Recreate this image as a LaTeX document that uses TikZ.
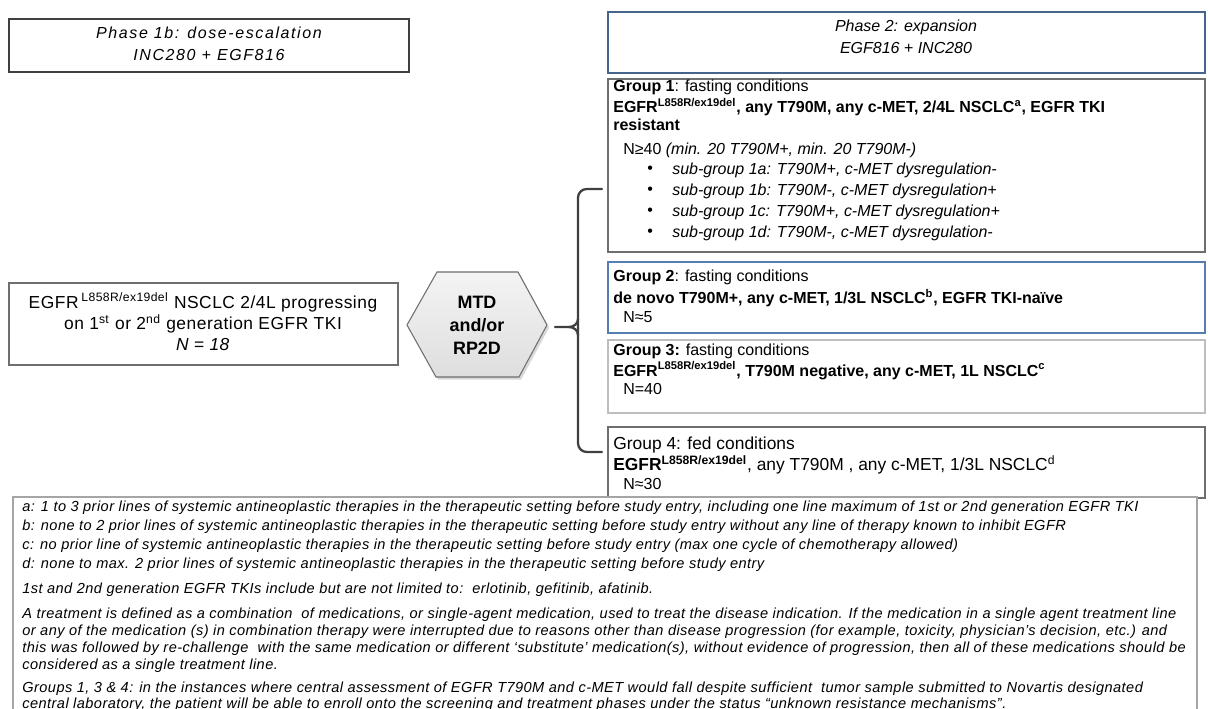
\documentclass[tikz,border=0pt]{standalone}
\usepackage{fontspec}
\setmainfont{Liberation Sans}
\newfontfamily\spacedfont[LetterSpace=10]{Liberation Sans}
\newfontfamily\notefamily[LetterSpace=3]{Liberation Sans}
\newfontfamily\entryfamily[LetterSpace=3]{Liberation Sans}
\usetikzlibrary{shadows}
\definecolor{darkline}{RGB}{64,64,64}
\definecolor{greyline}{RGB}{110,110,110}
\definecolor{paleline}{RGB}{190,190,190}
\definecolor{noteline}{RGB}{165,165,165}
\definecolor{navyline}{RGB}{70,100,140}
\definecolor{blueline}{RGB}{85,125,175}
\definecolor{hexgrey}{RGB}{222,222,222}
\newcommand{\egfr}{EGFR\textsuperscript{L858R/ex19del}}
\newcommand{\bodyfont}{\fontsize{9.1}{12.5}\selectfont}
\newcommand{\bigfont}{\fontsize{9.9}{12.2}\selectfont}
\newcommand{\notefont}{\notefamily\fontsize{8.3}{9}\selectfont\itshape}

\begin{document}
\begin{tikzpicture}[x=0.02cm,y=-0.02cm,
  panel/.style={draw=#1,line width=0.7pt},
  hdr/.style={font=\bodyfont\itshape,align=center,inner sep=0pt},
  txt/.style={anchor=west,inner sep=0pt,font=\bodyfont},
  subtxt/.style={anchor=west,inner sep=0pt,font=\bodyfont\itshape},
  note/.style={anchor=west,inner sep=0pt,font=\notefont},
  brace/.style={draw=darkline,line width=1.3pt,line cap=round},
  hexshape/.style={draw=greyline,line width=0.6pt,top color=hexgrey!35,
                   bottom color=hexgrey,
                   drop shadow={shadow xshift=1.2pt,shadow yshift=-1.5pt,opacity=0.3}}]
\useasboundingbox (0,0) rectangle (1208,709);

% phase 1b
\draw[panel=darkline] (9,19) rectangle (409,72);
\node[hdr,font=\spacedfont\bodyfont\itshape] (ph1) at (209,44) {Phase 1b: dose-escalation\\INC280 + EGF816};

% entry box and hexagon
\draw[panel=greyline] (9,283) rectangle (398,365);
\node[align=center,inner sep=0pt,font=\entryfamily\bigfont] (entry) at (203,322)
  {EGFR\,\textsuperscript{L858R/ex19del} NSCLC 2/4L progressing\\
   on 1\textsuperscript{st} or 2\textsuperscript{nd} generation EGFR TKI\\
   \textit{N = 18}};
\draw[hexshape] (407,325) -- (437,272) -- (518,272) -- (547,325)
  -- (519,377) -- (436,377) -- cycle;
\node[align=center,inner sep=0pt,font=\fontsize{10.2}{13}\selectfont\bfseries] (mtd) at (477,325)
  {MTD\\and/or\\RP2D};

% brace
\coordinate (brTip) at (555,327);
\coordinate (brTop) at (602,189);
\coordinate (brBot) at (602,452);
\draw[brace,rounded corners=5pt] (brTop) -- (578,189) -- (578,452) -- (brBot);
\draw[brace] (brTip) -- (569,327) to[out=0,in=-90] (578,319);
\draw[brace] (569,327) to[out=0,in=90] (578,335);

% phase 2
\draw[panel=navyline] (608,12) rectangle (1205,73);
\node[hdr] (ph2) at (906,37) {Phase 2: expansion\\EGF816 + INC280};

% group 1
\draw[panel=greyline] (608,79) rectangle (1205,252);
\node[txt] (g1a) at (613,87) {\textbf{Group 1}: fasting conditions};
\node[txt] (g1b) at (613,107) {\bfseries \egfr, any T790M, any c-MET, 2/4L NSCLC\textsuperscript{a}, EGFR TKI};
\node[txt] (g1c) at (613,125) {\bfseries resistant};
\node[txt] (g1n) at (623,150) {N≥40 \textit{(min. 20 T790M+, min. 20 T790M-)}};
\foreach \s/\t [count=\i] in {a/{T790M+, c-MET dysregulation-},
                               b/{T790M-, c-MET dysregulation+},
                               c/{T790M+, c-MET dysregulation+},
                               d/{T790M-, c-MET dysregulation-}}{
  \node[txt] (bul\s) at (647,{149+21*\i}) {•};
  \node[subtxt] (sg\s) at (672,{149+21*\i}) {sub-group 1\s: \t};
}

% group 2
\draw[panel=blueline] (608,262) rectangle (1205,333);
\node[txt] (g2a) at (613,277) {\textbf{Group 2}: fasting conditions};
\node[txt] (g2b) at (613,298) {\bfseries de novo T790M+, any c-MET, 1/3L NSCLC\textsuperscript{b}, EGFR TKI-naïve};
\node[txt] (g2n) at (623,317) {N≈5};

% group 3
\draw[panel=paleline] (608,340) rectangle (1205,413);
\node[txt] (g3a) at (613,351) {\textbf{Group 3:} fasting conditions};
\node[txt] (g3b) at (613,371) {\bfseries \egfr, T790M negative, any c-MET, 1L NSCLC\textsuperscript{c}};
\node[txt] (g3n) at (623,389) {N=40};

% group 4
\draw[panel=greyline] (608,427) rectangle (1205,498);
\node[txt,font=\bigfont] (g4a) at (613,445) {Group 4: fed conditions};
\node[txt,font=\bigfont] (g4b) at (613,465) {\textbf{\egfr}, any T790M , any c-MET, 1/3L NSCLC\textsuperscript{d}};
\node[txt] (g4n) at (623,484) {N≈30};

% footnotes
\draw[panel=noteline,fill=white] (13,497) rectangle (1197,740);
\node[note] (fa) at (22,508) {a: 1 to 3 prior lines of systemic antineoplastic therapies in the therapeutic setting before study entry, including one line maximum of 1st or 2nd generation EGFR TKI};
\node[note] (fb) at (22,527) {b: none to 2 prior lines of systemic antineoplastic therapies in the therapeutic setting before study entry without any line of therapy known to inhibit EGFR};
\node[note] (fc) at (22,546) {c: no prior line of systemic antineoplastic therapies in the therapeutic setting before study entry (max one cycle of chemotherapy allowed)};
\node[note] (fd) at (22,565) {d: none to max. 2 prior lines of systemic antineoplastic therapies in the therapeutic setting before study entry};
\node[note] (tki) at (22,590) {1st and 2nd generation EGFR TKIs include but are not limited to:\ \ erlotinib, gefitinib, afatinib.};
\node[note] (tr1) at (22,615) {A treatment is defined as a combination\ \ of medications, or single-agent medication, used to treat the disease indication. If the medication in a single agent treatment line};
\node[note] (tr2) at (22,632) {or any of the medication (s) in combination therapy were interrupted due to reasons other than disease progression (for example, toxicity, physician’s decision, etc.) and};
\node[note] (tr3) at (22,649) {this was followed by re-challenge\ \ with the same medication or different ‘substitute’ medication(s), without evidence of progression, then all of these medications should be};
\node[note] (tr4) at (22,666) {considered as a single treatment line.};
\node[note] (gr1) at (22,689) {Groups 1, 3 \& 4: in the instances where central assessment of EGFR T790M and c-MET would fall despite sufficient\ \ tumor sample submitted to Novartis designated};
\node[note] (gr2) at (22,705) {central laboratory, the patient will be able to enroll onto the screening and treatment phases under the status “unknown resistance mechanisms”.};
\end{tikzpicture}
\end{document}
